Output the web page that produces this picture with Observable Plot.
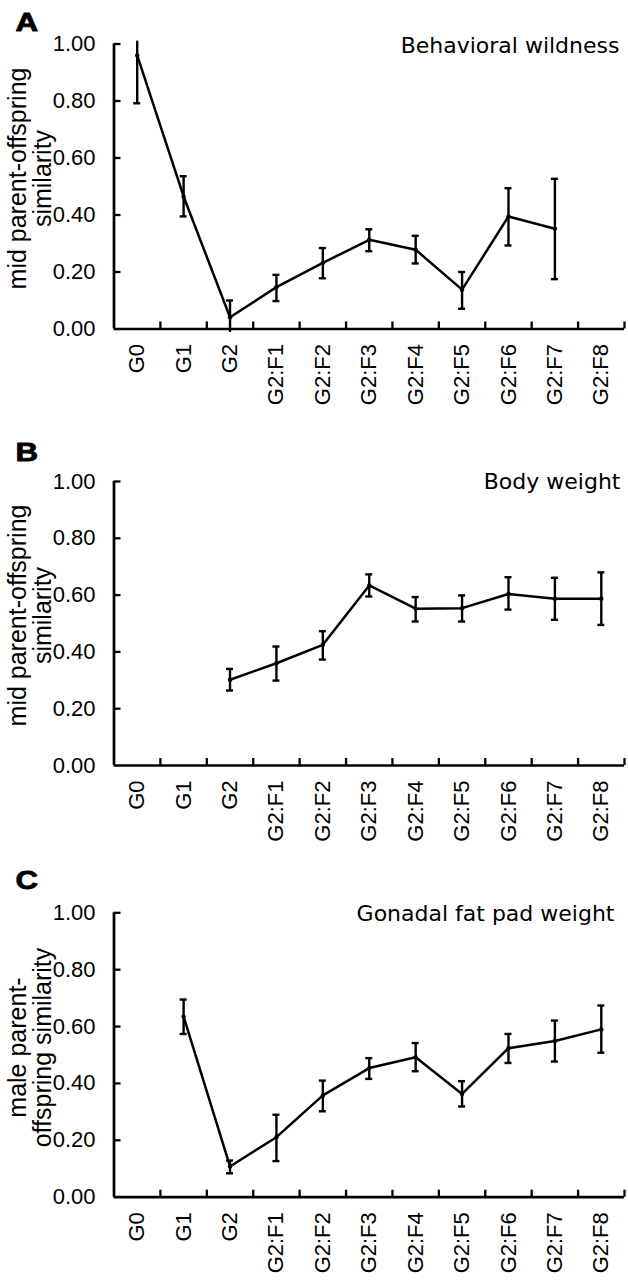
<!DOCTYPE html>
<html>
<head>
<meta charset="utf-8">
<script src="https://cdn.jsdelivr.net/npm/d3@7"></script>
<script src="https://cdn.jsdelivr.net/npm/@observablehq/plot@0.6"></script>
<style>
  html, body { margin: 0; padding: 0; background: #fff; }
  #chart { width: 628px; }
  #chart svg { display: block; }
</style>
</head>
<body>
<div id="chart"></div>
<script>
const categories = ["G0", "G1", "G2", "G2:F1", "G2:F2", "G2:F3", "G2:F4", "G2:F5", "G2:F6", "G2:F7", "G2:F8"];
const yTickValues = [0, 0.2, 0.4, 0.6, 0.8, 1.0];

// Panel A: Behavioral wildness
const wildness     = [0.96, 0.465, 0.041, 0.147, 0.232, 0.313, 0.278, 0.138, 0.395, 0.352, null];
const wildnessLow  = [0.792, 0.395, -0.012, 0.098, 0.178, 0.273, 0.230, 0.071, 0.293, 0.175, null];
const wildnessHigh = [1.01, 0.536, 0.100, 0.190, 0.284, 0.350, 0.327, 0.200, 0.494, 0.527, null];

// Panel B: Body weight
const bodyWeight     = [null, null, 0.302, 0.360, 0.425, 0.634, 0.552, 0.554, 0.604, 0.587, 0.587];
const bodyWeightLow  = [null, null, 0.264, 0.299, 0.373, 0.595, 0.507, 0.507, 0.549, 0.513, 0.495];
const bodyWeightHigh = [null, null, 0.340, 0.419, 0.473, 0.673, 0.593, 0.599, 0.663, 0.661, 0.680];

// Panel C: Gonadal fat pad weight
const fatPad     = [null, 0.635, 0.108, 0.211, 0.358, 0.454, 0.492, 0.363, 0.524, 0.549, 0.590];
const fatPadLow  = [null, 0.574, 0.084, 0.127, 0.302, 0.416, 0.443, 0.319, 0.472, 0.477, 0.508];
const fatPadHigh = [null, 0.695, 0.129, 0.290, 0.410, 0.489, 0.542, 0.408, 0.574, 0.621, 0.674];

const panels = [
  {letter: "A", title: "Behavioral wildness", ylabel: "mid parent-offspring\nsimilarity",
   values: wildness, low: wildnessLow, high: wildnessHigh,
   height: 438, marginTop: 43.5, marginBottom: 109.5, letterBaseline: 30.7, titleDy: 8.8, titleDx: -5, labelDy: -8},
  {letter: "B", title: "Body weight", ylabel: "mid parent-offspring\nsimilarity",
   values: bodyWeight, low: bodyWeightLow, high: bodyWeightHigh,
   height: 436, marginTop: 43, marginBottom: 109, letterBaseline: 22.7, titleDy: 7.3, titleDx: -4, labelDy: -8},
  {letter: "C", title: "Gonadal fat pad weight", ylabel: "male parent-\noffspring similarity",
   values: fatPad, low: fatPadLow, high: fatPadHigh,
   height: 406, marginTop: 38.3, marginBottom: 83.3, letterBaseline: 14.3, titleDy: 7.7, titleDx: -10, labelDy: -7.5}
];

const W = 628, ML = 113.5, MR = 4;
const sans = "'Liberation Sans', Arial, Helvetica, sans-serif";

for (const p of panels) {
  const rows = categories.map((c, i) => ({i, cat: c, v: p.values[i], lo: p.low[i], hi: p.high[i]}))
    .filter(d => d.v != null);
  const caps = rows.flatMap(d => [{i: d.i, y: d.lo}, {i: d.i, y: d.hi}])
    .filter(c => c.y >= 0 && c.y <= 1);
  const boundaries = categories.map((c, i) => i + 0.5);
  const plotH = p.height - p.marginTop - p.marginBottom;
  const plotW = W - ML - MR;

  const chart = Plot.plot({
    width: W,
    height: p.height,
    marginLeft: ML,
    marginRight: MR,
    marginTop: p.marginTop,
    marginBottom: p.marginBottom,
    style: {background: "#fff", color: "#000", fontFamily: sans, fontSize: "22px", overflow: "visible"},
    x: {domain: [-0.5, categories.length - 0.5]},
    y: {domain: [0, 1]},
    marks: [
      Plot.ruleY([0], {stroke: "#000", strokeWidth: 2.7}),
      Plot.ruleX([-0.5], {stroke: "#000", strokeWidth: 2.7}),
      Plot.tickX(boundaries, {x: d => d, stroke: "#000", strokeWidth: 2.3, insetTop: plotH - 7}),
      Plot.tickY(yTickValues.filter(v => v > 0), {y: d => d, stroke: "#000", strokeWidth: 2.3, insetRight: plotW - 7}),
      Plot.ruleX(rows, {x: "i", y1: "lo", y2: "hi", stroke: "#000", strokeWidth: 2.4}),
      Plot.ruleY(caps, {x1: "i", x2: "i", y: "y", stroke: "#000", strokeWidth: 2.4, insetLeft: -3.5, insetRight: -3.5}),
      Plot.line(rows, {x: "i", y: "v", stroke: "#000", strokeWidth: 2.5}),
      Plot.dot(rows, {x: "i", y: "v", r: 2.2, fill: "#000"}),
      Plot.axisY({ticks: yTickValues, tickFormat: d3.format(".2f"), tickSize: 0, tickPadding: 18.5,
                  fontSize: 22, fontFamily: sans, label: null}),
      Plot.axisX({ticks: categories.map((c, i) => i), tickFormat: i => categories[i], tickRotate: -90,
                  tickSize: 0, tickPadding: 15, fontSize: 22, fontFamily: sans, label: null}),
      Plot.text([p.letter], {text: d => d, frameAnchor: "top-left", textAnchor: "start", lineAnchor: "bottom",
                  dx: 15 - ML, dy: p.letterBaseline - p.marginTop, fontSize: 25, fontWeight: "bold", fontFamily: sans,
                  fill: "#000", stroke: "#000", strokeWidth: 0.8}),
      Plot.text([p.title], {text: d => d, frameAnchor: "top-right", textAnchor: "end", lineAnchor: "bottom",
                  dx: p.titleDx, dy: p.titleDy, fontSize: 22, fontFamily: "'DejaVu Sans', Verdana, sans-serif", fill: "#000"}),
      Plot.text([p.ylabel], {text: d => d, frameAnchor: "left", rotate: -90, textAnchor: "middle", lineAnchor: "middle",
                  lineHeight: 1.0, dx: 29.5 - ML, dy: p.labelDy, fontSize: 25, fontFamily: sans, fill: "#000"})
    ]
  });
  // widen the bold panel letter horizontally, as in the reference
  d3.select(chart).selectAll("text").filter(function() { return this.textContent === p.letter; })
    .each(function() {
      const x = +(this.getAttribute("x") || 0), y = +(this.getAttribute("y") || 0);
      const t = this.getAttribute("transform") || "";
      this.setAttribute("transform", `${t} translate(${x},${y}) scale(1.25,1) translate(${-x},${-y})`);
    });
  document.getElementById("chart").appendChild(chart);
}
</script>
</body>
</html>
